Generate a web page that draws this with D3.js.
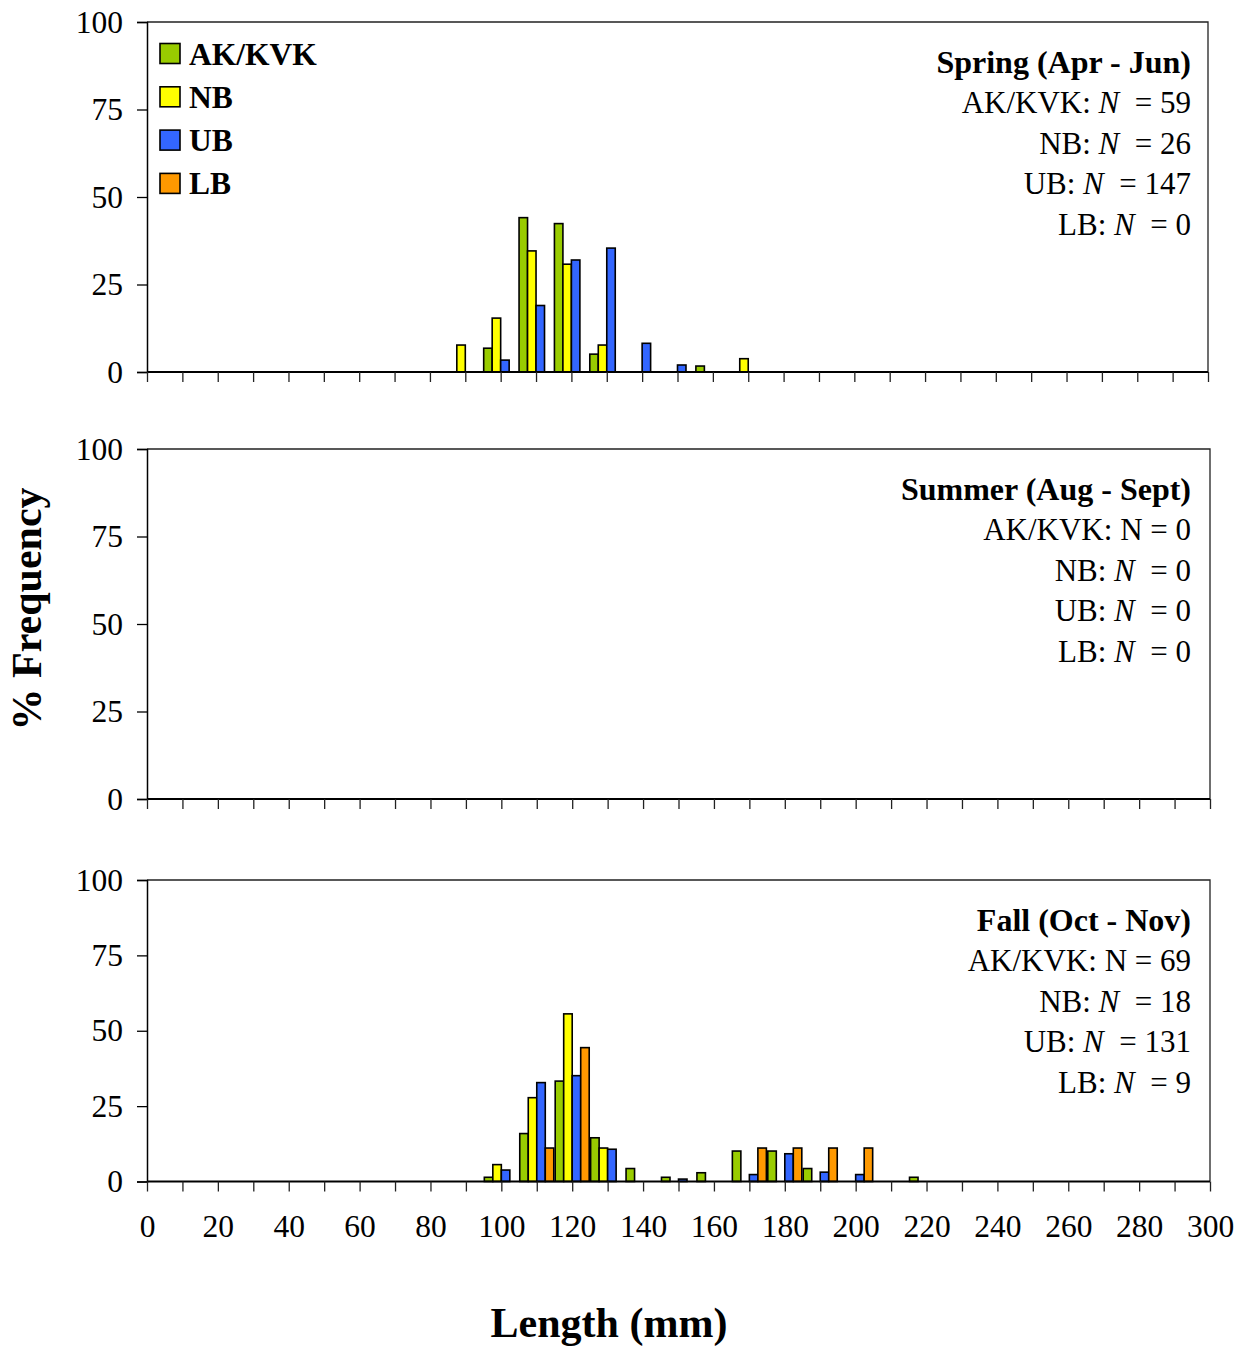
<!DOCTYPE html>
<html>
<head>
<meta charset="utf-8">
<script src="https://cdn.jsdelivr.net/npm/d3@7"></script>
<style>
  html, body { margin: 0; padding: 0; background: #fff; }
  svg { display: block; }
  text { font-family: "Liberation Serif", "Times New Roman", serif; fill: #000; }
</style>
</head>
<body>
<svg id="chart" width="1243" height="1348"></svg>
<script>
// ---------------- DATA ----------------
const seriesNames = ["AK/KVK", "NB", "UB", "LB"];
const seriesColors = ["#99CC00", "#FFFF00", "#3366FF", "#FF9900"];

const yTicks = [0, 25, 50, 75, 100];
const xTickLabels = [0, 20, 40, 60, 80, 100, 120, 140, 160, 180, 200, 220, 240, 260, 280, 300];

// Spring (Apr - Jun) length bins (mm) and % frequency per group
const springBins = [90, 100, 110, 120, 130, 140, 150, 160, 170];
const springAK = [0, 6.8, 44.1, 42.4, 5.1, 0, 0, 1.7, 0];
const springNB = [7.7, 15.4, 34.6, 30.8, 7.7, 0, 0, 0, 3.8];
const springUB = [0, 3.4, 19.0, 32.0, 35.4, 8.2, 2.0, 0, 0];
const springLB = [0, 0, 0, 0, 0, 0, 0, 0, 0];

// Summer (Aug - Sept): no fish
const summerBins = [];
const summerAK = [], summerNB = [], summerUB = [], summerLB = [];

// Fall (Oct - Nov)
const fallBins = [100, 110, 120, 130, 140, 150, 160, 170, 180, 190, 200, 210, 220];
const fallAK = [1.4, 15.9, 33.3, 14.5, 4.3, 1.4, 2.9, 10.1, 10.1, 4.3, 0, 0, 1.4];
const fallNB = [5.6, 27.8, 55.6, 11.1, 0, 0, 0, 0, 0, 0, 0, 0, 0];
const fallUB = [3.8, 32.8, 35.1, 10.7, 0, 0.8, 0, 2.3, 9.2, 3.1, 2.3, 0, 0];
const fallLB = [0, 11.1, 44.4, 0, 0, 0, 0, 11.1, 11.1, 11.1, 11.1, 0, 0];

// Annotation texts
const seasonTitles = ["Spring (Apr - Jun)", "Summer (Aug - Sept)", "Fall (Oct - Nov)"];
const springN = [59, 26, 147, 0];
const summerN = [0, 0, 0, 0];
const fallN = [69, 18, 131, 9];
// whether the "N" is set in italic, per season and series
const springItalic = [true, true, true, true];
const summerItalic = [false, true, true, true];
const fallItalic = [false, true, true, true];

// ---------------- LAYOUT ----------------
const svg = d3.select("#chart");
const FONT_TICK = 31.5;
const FONT_ANN = 31;
const FONT_TITLE = 32;

const panels = [
  { top: 22,  bottom: 372,    left: 147, right: 1208, bins: springBins, series: [springAK, springNB, springUB, springLB], title: seasonTitles[0], N: springN, ital: springItalic, legend: true,  xLabels: false },
  { top: 449, bottom: 799,    left: 147, right: 1210, bins: summerBins, series: [summerAK, summerNB, summerUB, summerLB], title: seasonTitles[1], N: summerN, ital: summerItalic, legend: false, xLabels: false },
  { top: 880, bottom: 1181.5, left: 147, right: 1210, bins: fallBins,   series: [fallAK, fallNB, fallUB, fallLB],         title: seasonTitles[2], N: fallN,   ital: fallItalic,   legend: false, xLabels: true }
];

panels.forEach((p) => {
  const g = svg.append("g");
  const x = d3.scaleLinear().domain([0, 300]).range([p.left, p.right]);
  const y = d3.scaleLinear().domain([0, 100]).range([p.bottom, p.top]);
  const step = x(10) - x(0);
  const bw = step * 0.24;

  // frame (top and right)
  g.append("path")
    .attr("d", `M${p.left},${p.top}H${p.right}V${p.bottom}`)
    .attr("fill", "none").attr("stroke", "#222").attr("stroke-width", 1.3);

  // bars
  p.series.forEach((vals, si) => {
    const data = p.bins.map((b, i) => ({ b, v: vals[i] })).filter(d => d.v > 0);
    g.selectAll(null).data(data).enter().append("rect")
      .attr("x", d => x(d.b) + (si - 2) * bw)
      .attr("y", d => y(d.v))
      .attr("width", bw)
      .attr("height", d => y(0) - y(d.v))
      .attr("fill", seriesColors[si])
      .attr("stroke", "#000")
      .attr("stroke-width", 1.6);
  });

  // y axis
  const yAxis = d3.axisLeft(y).tickValues(yTicks).tickSize(10).tickPadding(14).tickFormat(d3.format("d"));
  const ya = g.append("g").attr("transform", `translate(${p.left},0)`).call(yAxis);
  ya.select(".domain").attr("stroke", "#000").attr("stroke-width", 1.5);
  ya.selectAll(".tick line").attr("stroke", "#000").attr("stroke-width", 1.3);
  ya.selectAll(".tick text").attr("font-size", FONT_TICK).attr("font-family", "Liberation Serif").attr("fill", "#000");

  // x axis
  const xTicksAll = d3.range(0, 301, 10);
  const xAxis = d3.axisBottom(x).tickValues(xTicksAll).tickSize(10).tickPadding(23)
    .tickFormat(d => (p.xLabels && xTickLabels.includes(d)) ? d : "");
  const xa = g.append("g").attr("transform", `translate(0,${p.bottom})`).call(xAxis);
  xa.select(".domain").attr("stroke", "#000").attr("stroke-width", 1.8).attr("d", `M${p.left},0H${p.right}`);
  xa.selectAll(".tick line").attr("stroke", "#222").attr("stroke-width", 1.3);
  xa.selectAll(".tick text").attr("font-size", FONT_TICK).attr("font-family", "Liberation Serif").attr("fill", "#000");

  // annotation
  const tx = 1191;
  const base = p.top + 51;
  const lh = 40.4;
  g.append("text").attr("x", tx).attr("y", base).attr("text-anchor", "end")
    .attr("font-size", FONT_TITLE).attr("font-weight", "bold").text(p.title);
  seriesNames.forEach((name, i) => {
    const t = g.append("text").attr("x", tx).attr("y", base + lh * (i + 1)).attr("text-anchor", "end")
      .attr("font-size", FONT_ANN).style("white-space", "pre");
    t.append("tspan").text(name + ": ");
    t.append("tspan").attr("font-style", p.ital[i] ? "italic" : "normal").text("N");
    t.append("tspan").text((p.ital[i] ? "  = " : " = ") + p.N[i]);
  });

  // legend
  if (p.legend) {
    seriesNames.forEach((name, i) => {
      const cy = 53.5 + i * 43.3;
      g.append("rect").attr("x", 160).attr("y", cy - 10).attr("width", 20).attr("height", 20)
        .attr("fill", seriesColors[i]).attr("stroke", "#000").attr("stroke-width", 1.6);
      g.append("text").attr("x", 189).attr("y", cy + 11).attr("font-size", 31.5).attr("font-weight", "bold").text(name);
    });
  }
});

// axis titles
svg.append("text").attr("transform", "translate(41,609) rotate(-90)").attr("text-anchor", "middle")
  .attr("font-size", 42).attr("font-weight", "bold").text("% Frequency");
svg.append("text").attr("x", 609).attr("y", 1337).attr("text-anchor", "middle")
  .attr("font-size", 42).attr("font-weight", "bold").text("Length (mm)");
</script>
</body>
</html>
